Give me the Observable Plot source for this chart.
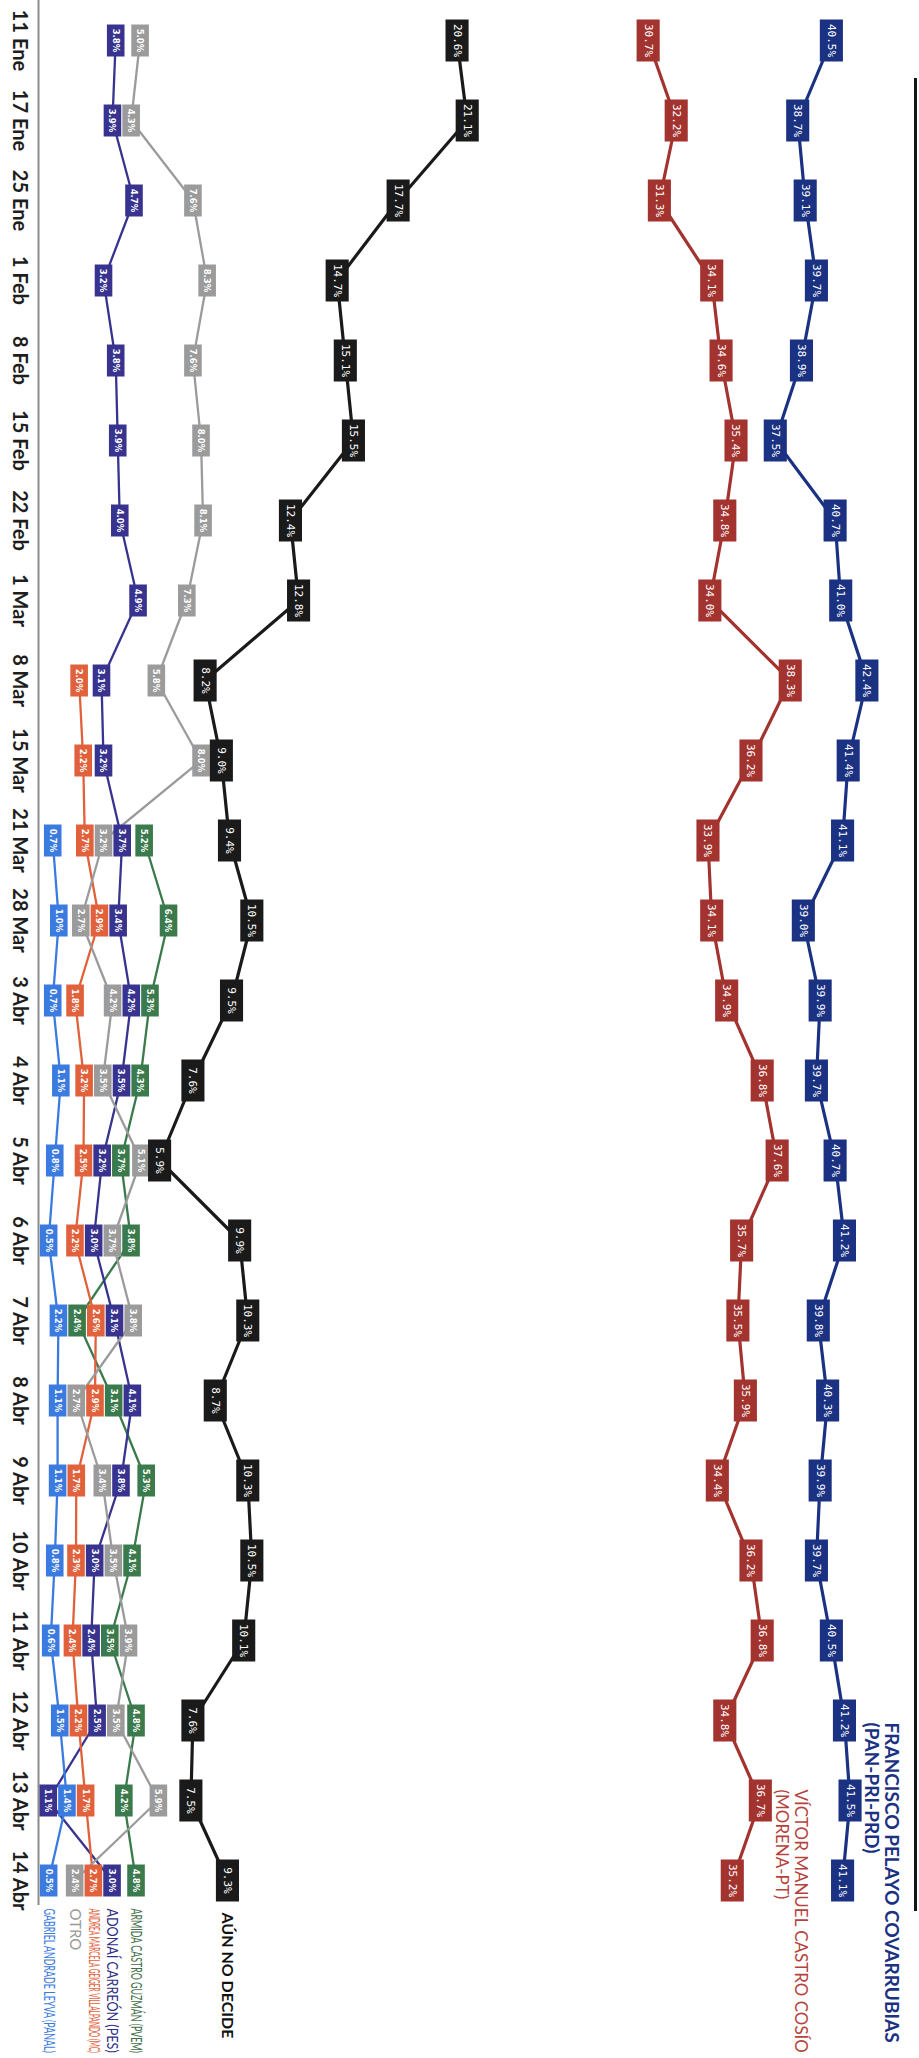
<!DOCTYPE html>
<html>
<head>
<meta charset="utf-8">
<script src="https://cdn.jsdelivr.net/npm/d3@7"></script>
<script src="https://cdn.jsdelivr.net/npm/@observablehq/plot@0.6"></script>
<style>
  html, body { margin: 0; padding: 0; background: #ffffff; }
  #chart svg { display: block; }
</style>
</head>
<body>
<div id="chart"></div>
<script>
// ---------- DATA ----------
const dates = ["11 Ene","17 Ene","25 Ene","1 Feb","8 Feb","15 Feb","22 Feb","1 Mar","8 Mar","15 Mar","21 Mar","28 Mar",
               "3 Abr","4 Abr","5 Abr","6 Abr","7 Abr","8 Abr","9 Abr","10 Abr","11 Abr","12 Abr","13 Abr","14 Abr"];

const francisco   = [40.5,38.7,39.1,39.7,38.9,37.5,40.7,41.0,42.4,41.4,41.1,39.0,39.9,39.7,40.7,41.2,39.8,40.3,39.9,39.7,40.5,41.2,41.5,41.1];
const victor      = [30.7,32.2,31.3,34.1,34.6,35.4,34.8,34.0,38.3,36.2,33.9,34.1,34.9,36.8,37.6,35.7,35.5,35.9,34.4,36.2,36.8,34.8,36.7,35.2];
const aunNoDecide = [20.6,21.1,17.7,14.7,15.1,15.5,12.4,12.8,8.2,9.0,9.4,10.5,9.5,7.6,5.9,9.9,10.3,8.7,10.3,10.5,10.1,7.6,7.5,9.3];
const armida      = [null,null,null,null,null,null,null,null,null,null,5.2,6.4,5.3,4.3,3.7,3.8,2.4,3.1,5.3,4.1,3.5,4.8,4.2,4.8];
const adonai      = [3.8,3.9,4.7,3.2,3.8,3.9,4.0,4.9,3.1,3.2,3.7,3.4,4.2,3.5,3.2,3.0,3.1,4.1,3.8,3.0,2.4,2.5,1.1,3.0];
const andrea      = [null,null,null,null,null,null,null,null,2.0,2.2,2.7,2.9,1.8,3.2,2.5,2.2,2.6,2.9,1.7,2.3,2.4,2.2,1.7,2.7];
const otro        = [5.0,4.3,7.6,8.3,7.6,8.0,8.1,7.3,5.8,8.0,3.2,2.7,4.2,3.5,5.1,3.7,3.8,2.7,3.4,3.5,3.9,3.5,5.9,2.4];
const gabriel     = [null,null,null,null,null,null,null,null,null,null,0.7,1.0,0.7,1.1,0.8,0.5,2.2,1.1,1.1,0.8,0.6,1.5,1.4,0.5];

const seriesKeys   = ["francisco","victor","aunNoDecide","armida","adonai","andrea","otro","gabriel"];
const seriesValues = [francisco, victor, aunNoDecide, armida, adonai, andrea, otro, gabriel];
const seriesLabels = ["FRANCISCO PELAYO COVARRUBIAS\n(PAN-PRI-PRD)", "VÍCTOR MANUEL CASTRO COSÍO\n(MORENA-PT)", "AÚN NO DECIDE",
                      "ARMIDA CASTRO GUZMÁN (PVEM)", "ADONAÍ CARREÓN (PES)", "ANDREA MARCELA GEIGER VILLALPANDO (MC)",
                      "OTRO", "GABRIEL ANDRADE LEYVA (PANAL)"];
const seriesColors = ["#1b3283","#a3332f","#1a1a1a","#3a7a4c","#37338f","#e0613b","#9b9b9b","#3b7be0"];
const labelColors  = ["#1b3283","#b5433d","#111111","#3f7048","#2f2f86","#e2623c","#9a9a9a","#3b7be0"];
const bigSeries    = ["francisco","victor","aunNoDecide"];

// ---------- LONG TABLE + collision avoidance for the boxes ----------
const rows = [];
seriesKeys.forEach((key, si) => {
  seriesValues[si].forEach((v, i) => {
    if (v != null) rows.push({series: key, order: si, date: dates[i], value: v, pos: v, big: bigSeries.includes(key)});
  });
});

const GAP = 0.92; // minimum separation (in %) between neighbouring boxes
for (const [, items] of d3.group(rows, d => d.date)) {
  const sorted = items.slice().sort((a, b) => a.value - b.value || b.order - a.order);
  let clusters = sorted.map(d => ({items: [d], sum: d.value}));
  let merged = true;
  while (merged) {
    merged = false;
    for (let i = 0; i < clusters.length - 1; i++) {
      const a = clusters[i], b = clusters[i + 1];
      const aHi = a.sum / a.items.length + (a.items.length - 1) * GAP / 2;
      const bLo = b.sum / b.items.length - (b.items.length - 1) * GAP / 2;
      if (bLo - aHi < GAP - 1e-9) {
        clusters.splice(i, 2, {items: a.items.concat(b.items), sum: a.sum + b.sum});
        merged = true;
        break;
      }
    }
  }
  for (const c of clusters) {
    const n = c.items.length, m = c.sum / n;
    c.items.forEach((d, k) => { d.pos = m + (k - (n - 1) / 2) * GAP; });
  }
}

const lastRows = seriesKeys.map(key => {
  const r = rows.filter(d => d.series === key);
  const last = r[r.length - 1];
  return {...last, label: seriesLabels[seriesKeys.indexOf(key)]};
});

const boxSymbol = {
  draw(context, size) {
    const r = Math.sqrt(size / Math.PI);
    const w = r * 1.1, h = r * 2;
    context.rect(-w / 2, -h / 2, w, h);
  }
};

const labelColor = key => labelColors[seriesKeys.indexOf(key)];
const pct = d => d.value.toFixed(1) + "%";
const sans = "Lato, 'Open Sans', sans-serif";

const chart = Plot.plot({
  width: 919,
  height: 2058,
  marginTop: 29,
  marginBottom: 167,
  marginLeft: 38,
  marginRight: 4,
  style: {background: "#ffffff"},
  x: {type: "linear", domain: [0, 22, 45], range: [38, 485, 915], axis: null},
  y: {type: "point", domain: dates, padding: 0, axis: null},
  color: {domain: seriesKeys, range: seriesColors},
  marks: [
    Plot.ruleX([0], {stroke: "#8c8c8c", strokeWidth: 2, insetTop: -29, insetBottom: -14}),
    Plot.frame({anchor: "right", stroke: "#151515", strokeWidth: 3, insetTop: 50, insetBottom: -18}),
    Plot.axisY({anchor: "left", tickRotate: 90, tickSize: 0, tickPadding: 11, fontSize: 20, fontWeight: "bold",
                fill: "#1e1e1e", fontFamily: sans, label: null}),
    Plot.line(rows.filter(d => !d.big), {x: "pos", y: "date", z: "series", stroke: "series", strokeWidth: 2.3}),
    Plot.line(rows.filter(d => d.big), {x: "pos", y: "date", z: "series", stroke: "series", strokeWidth: 3.2}),
    Plot.dot(rows.filter(d => !d.big), {x: "pos", y: "date", fill: "series", symbol: boxSymbol, r: 16}),
    Plot.dot(rows.filter(d => d.big), {x: "pos", y: "date", fill: "series", symbol: boxSymbol, r: 21}),
    Plot.text(rows.filter(d => !d.big), {x: "pos", y: "date", text: pct, rotate: 90, fill: "white",
      fontSize: 9.5, fontWeight: "bold", fontFamily: "'Liberation Sans Narrow', 'DejaVu Sans Condensed', 'Roboto', sans-serif"}),
    Plot.text(rows.filter(d => d.big), {x: "pos", y: "date", text: pct, rotate: 90, fill: "white",
      fontSize: 11, fontFamily: "'DejaVu Sans Mono', 'Liberation Mono', monospace"}),
    // end labels: the two leading candidates sit beside the end of their lines, the rest below
    Plot.text(lastRows.filter(d => d.series === "francisco"), {x: "pos", y: "date", text: "label", rotate: 90,
      textAnchor: "start", lineAnchor: "bottom", dx: 22, dy: -158, fill: d => labelColor(d.series), fontSize: 19,
      fontWeight: "bold", lineHeight: 1.1, fontFamily: sans}),
    Plot.text(lastRows.filter(d => d.series === "victor"), {x: "pos", y: "date", text: "label", rotate: 90,
      textAnchor: "start", lineAnchor: "bottom", dx: 44, dy: -91, fill: d => labelColor(d.series), fontSize: 17,
      lineHeight: 1.1, fontFamily: sans}),
    Plot.text(lastRows.filter(d => d.series === "aunNoDecide"), {x: "pos", y: "date", text: "label", rotate: 90,
      textAnchor: "start", lineAnchor: "middle", dy: 32, fill: d => labelColor(d.series), fontSize: 16,
      fontWeight: "bold", fontFamily: sans}),
    Plot.text(lastRows.filter(d => !d.big), {x: "pos", y: "date", text: "label", rotate: 90,
      textAnchor: "start", lineAnchor: "middle", dy: 28, fill: d => labelColor(d.series), fontSize: 15,
      fontWeight: d => d.series === "otro" ? "normal" : "bold", fontFamily: sans})
  ]
});

document.getElementById("chart").appendChild(chart);

// Condense (along the reading direction) any label that would run past the bottom of the page
const limit = 2058 - 5;
chart.querySelectorAll("text").forEach(t => {
  const bb = t.getBoundingClientRect();
  if (bb.height > 0 && bb.bottom > limit) {
    const k = Math.max(0.3, (limit - bb.top) / bb.height);
    t.setAttribute("transform", (t.getAttribute("transform") || "") + ` scale(${k.toFixed(3)},1)`);
  }
});
</script>
</body>
</html>
